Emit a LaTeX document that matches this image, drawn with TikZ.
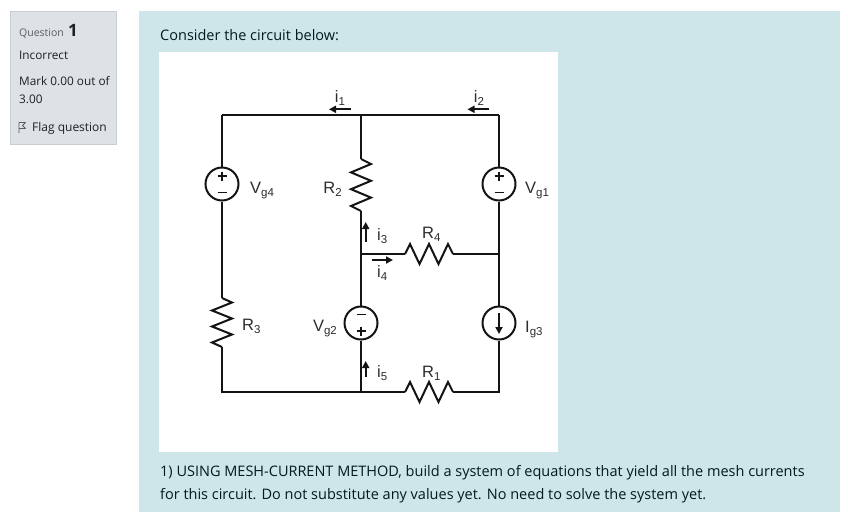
\documentclass[tikz,border=0pt]{standalone}
\usepackage{fontspec}
\setmainfont{Open Sans}
\newfontfamily\cirfont{Liberation Sans}
\usetikzlibrary{arrows.meta}
\definecolor{panelblue}{RGB}{206,230,234}
\definecolor{boxgray}{RGB}{222,226,230}
\definecolor{boxline}{RGB}{200,205,210}
\definecolor{qtext}{RGB}{29,33,37}
\definecolor{qgrey}{RGB}{90,95,100}
\definecolor{ptext}{RGB}{0,26,30}
\definecolor{cline}{RGB}{20,20,20}
\definecolor{clabel}{RGB}{45,45,45}
\newcommand\csub[1]{\raisebox{-0.42ex}{\fontsize{11.5}{12}\selectfont #1}}
\begin{document}
\begin{tikzpicture}[x=1pt,y=-1pt,
  wire/.style={draw=cline,line width=2pt,line join=miter},
  srcnode/.style={circle,draw=cline,line width=2pt,minimum size=33pt,inner sep=0pt,fill=white},
  signline/.style={draw=cline,line width=1.8pt},
  clab/.style={font=\cirfont\fontsize{16.5}{18}\selectfont,text=clabel,inner sep=0pt},
  curarrow/.style={draw=cline,line width=2pt,-{Triangle[length=7pt,width=7pt]}},
  ptxt/.style={font=\fontsize{14.5}{17}\selectfont,text=ptext,inner sep=0pt,anchor=base west},
  btxt/.style={font=\fontsize{11.8}{14}\selectfont,text=qtext,inner sep=0pt,anchor=base west},
]
\useasboundingbox (0,0) rectangle (848,512);
\fill[white] (0,0) rectangle (848,512);
% left info box
\draw[boxline,fill=boxgray,line width=0.8pt] (10,11) rectangle (116,144);
\node[btxt,font=\fontsize{10.5}{12}\selectfont,text=qgrey] (qlab) at (19,36) {Question};
\node[btxt,font=\bfseries\fontsize{17}{18}\selectfont] (qnum) at (68,36) {1};
\node[btxt] (state) at (19,59) {Incorrect};
\node[btxt] (mark1) at (19,85) {Mark 0.00 out of};
\node[btxt] (mark2) at (19,103) {3.00};
\node[btxt,font=\fontsize{12}{14}\selectfont] (flag) at (32,131) {Flag question};
\draw[qgrey,line width=0.8pt,line join=round] (19,133) -- (19,122.5) -- (25.5,122.5) -- (22.5,125.5) -- (25.5,128.5) -- (19,128.5);
% main panel
\fill[panelblue] (139,11) rectangle (840,512);
\fill[white] (159,52) rectangle (558,452);
\node[ptxt] (intro) at (160,40) {Consider the circuit below:};
\node[ptxt] (task1) at (160,476) {1) USING MESH-CURRENT METHOD, build a system of equations that yield all the mesh currents};
\node[ptxt] (task2) at (160,499) {for this circuit. Do not substitute any values yet. No need to solve the system yet.};
% circuit junctions
\coordinate (TL) at (222,115);
\coordinate (TM) at (361,115);
\coordinate (TR) at (499,115);
\coordinate (BL) at (222,392);
\coordinate (BM) at (361,392);
\coordinate (BR) at (499,392);
\coordinate (MM) at (361,254);
\coordinate (MR) at (499,254);
\coordinate (r2a) at (361,159);
\coordinate (r2b) at (361,211);
\coordinate (r3a) at (222,298);
\coordinate (r3b) at (222,347);
\coordinate (r4a) at (405,254);
\coordinate (r4b) at (453,254);
\coordinate (r1a) at (405,392);
\coordinate (r1b) at (453,392);
% sources
\node[srcnode] (vg4) at (222,184) {};
\node[srcnode] (vg1) at (499,184) {};
\node[srcnode] (vg2) at (361,323) {};
\node[srcnode] (ig3) at (499,323) {};
% wires
\draw[wire] (TL) -- (TR);
\draw[wire] (TL) -- (vg4.north);
\draw[wire] (vg4.south) -- (r3a);
\draw[wire] (r3b) -- (BL) -- (r1a);
\draw[wire] (r1b) -- (BR) -- (ig3.south);
\draw[wire] (ig3.north) -- (vg1.south);
\draw[wire] (vg1.north) -- (TR);
\draw[wire] (TM) -- (r2a);
\draw[wire] (r2b) -- (vg2.north);
\draw[wire] (vg2.south) -- (BM);
\draw[wire] (MM) -- (r4a);
\draw[wire] (r4b) -- (MR);
% resistors
\draw[wire] (r2a) -- ++(10,5) -- ++(-20,8.4) -- ++(20,8.4) -- ++(-20,8.4) -- ++(20,8.4) -- ++(-20,8.4) -- (r2b);
\draw[wire] (r3a) -- ++(10,4.5) -- ++(-20,8) -- ++(20,8) -- ++(-20,8) -- ++(20,8) -- ++(-20,8) -- (r3b);
\draw[wire] (r4a) -- ++(5,-10) -- ++(9.5,20) -- ++(9.5,-20) -- ++(9.5,20) -- ++(9.5,-20) -- (r4b);
\draw[wire] (r1a) -- ++(5,-10) -- ++(9.5,20) -- ++(9.5,-20) -- ++(9.5,20) -- ++(9.5,-20) -- (r1b);
% source signs (+ above, - below for Vg4 and Vg1; - above, + below for Vg2)
\draw[signline] (vg4.center) ++(-4.5,-8) -- ++(9,0) ++(-4.5,-4.5) -- ++(0,9);
\draw[signline] (vg4.center) ++(-4.5,8.5) -- ++(9,0);
\draw[signline] (vg1.center) ++(-4.5,-8) -- ++(9,0) ++(-4.5,-4.5) -- ++(0,9);
\draw[signline] (vg1.center) ++(-4.5,8.5) -- ++(9,0);
\draw[signline] (vg2.center) ++(-4.5,8) -- ++(9,0) ++(-4.5,-4.5) -- ++(0,9);
\draw[signline] (vg2.center) ++(-4.5,-8.5) -- ++(9,0);
\draw[curarrow] (ig3.center) ++(0,-10) -- ++(0,21);
% current arrows
\coordinate (i1t) at (350.7,109.3);
\coordinate (i1h) at (329,109.3);
\coordinate (i2t) at (489,109.3);
\coordinate (i2h) at (467.5,109.3);
\coordinate (i3t) at (365.7,241.7);
\coordinate (i3h) at (365.7,222);
\coordinate (i4t) at (371.7,260);
\coordinate (i4h) at (393,260);
\coordinate (i5t) at (365.7,377);
\coordinate (i5h) at (365.7,361);
\draw[curarrow] (i1t) -- (i1h);
\draw[curarrow] (i2t) -- (i2h);
\draw[curarrow] (i3t) -- (i3h);
\draw[curarrow] (i4t) -- (i4h);
\draw[curarrow] (i5t) -- (i5h);
% labels
\node[clab,anchor=base] (li1) at (340,102) {i\csub{1}};
\node[clab,anchor=base] (li2) at (479,102) {i\csub{2}};
\node[clab,anchor=base west] (li3) at (377,240) {i\csub{3}};
\node[clab,anchor=base west] (li4) at (377,277) {i\csub{4}};
\node[clab,anchor=base west] (li5) at (377,377) {i\csub{5}};
\node[clab,anchor=base west] (lvg4) at (250,193) {V\csub{g4}};
\node[clab,anchor=base east] (lr2) at (342,193) {R\csub{2}};
\node[clab,anchor=base west] (lvg1) at (525,193) {V\csub{g1}};
\node[clab,anchor=base west] (lr4) at (422,238) {R\csub{4}};
\node[clab,anchor=base west] (lr3) at (242,330) {R\csub{3}};
\node[clab,anchor=base east] (lvg2) at (337,331) {V\csub{g2}};
\node[clab,anchor=base west] (lig3) at (525,332) {I\csub{g3}};
\node[clab,anchor=base west] (lr1) at (422,377) {R\csub{1}};
\end{tikzpicture}
\end{document}
